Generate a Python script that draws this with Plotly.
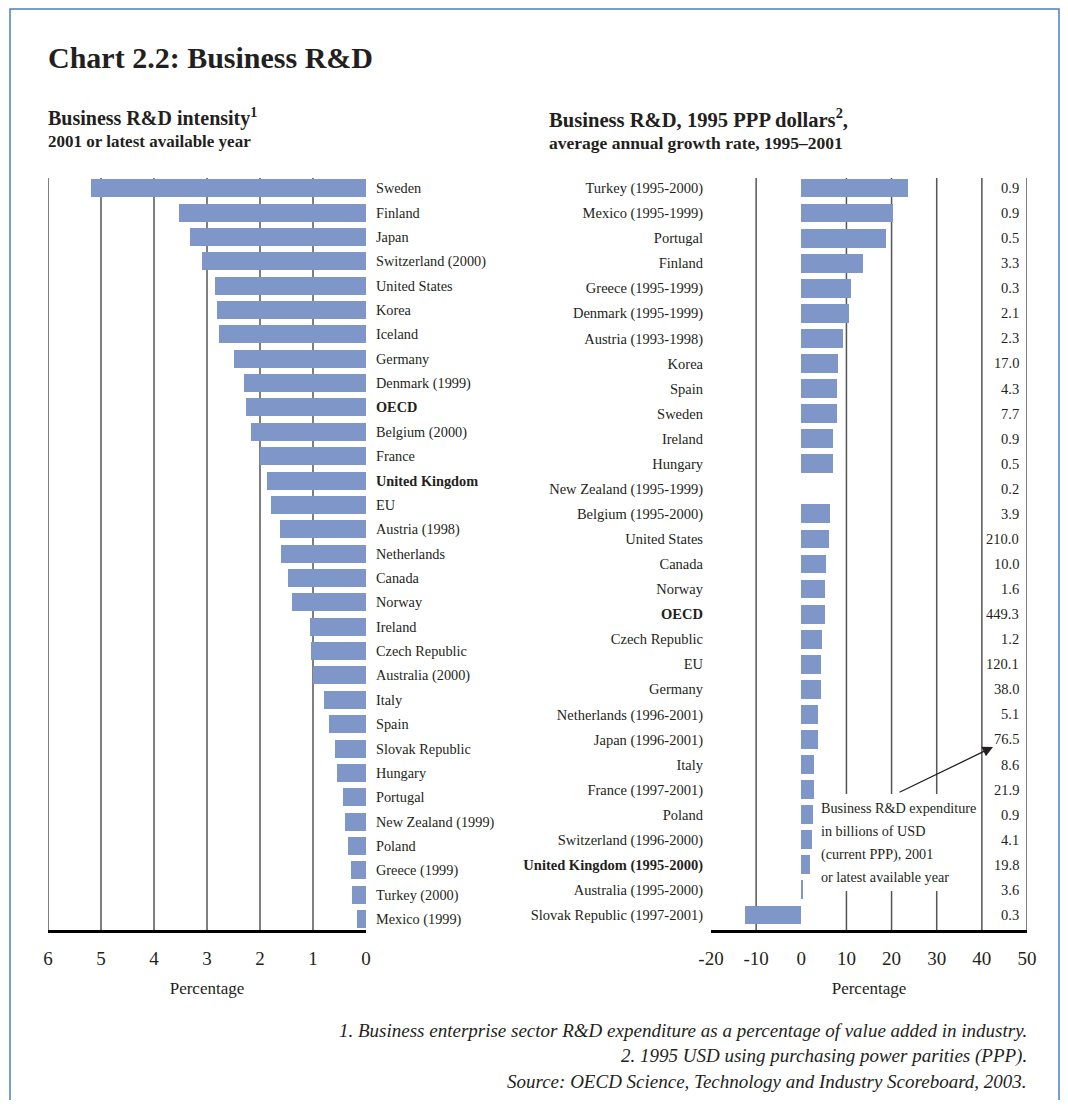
import plotly.graph_objects as go

# ---------------- data ----------------
left_categories = ["Sweden", "Finland", "Japan", "Switzerland (2000)", "United States", "Korea",
                   "Iceland", "Germany", "Denmark (1999)", "OECD", "Belgium (2000)", "France",
                   "United Kingdom", "EU", "Austria (1998)", "Netherlands", "Canada", "Norway",
                   "Ireland", "Czech Republic", "Australia (2000)", "Italy", "Spain",
                   "Slovak Republic", "Hungary", "Portugal", "New Zealand (1999)", "Poland",
                   "Greece (1999)", "Turkey (2000)", "Mexico (1999)"]
left_values = [5.19, 3.53, 3.32, 3.09, 2.85, 2.81, 2.77, 2.49, 2.30, 2.26, 2.17, 2.00,
               1.87, 1.79, 1.62, 1.60, 1.47, 1.40, 1.06, 1.04, 1.00, 0.79, 0.70,
               0.58, 0.55, 0.43, 0.40, 0.34, 0.28, 0.26, 0.17]
left_bold = ["OECD", "United Kingdom"]

right_categories = ["Turkey (1995-2000)", "Mexico (1995-1999)", "Portugal", "Finland",
                    "Greece (1995-1999)", "Denmark (1995-1999)", "Austria (1993-1998)", "Korea",
                    "Spain", "Sweden", "Ireland", "Hungary", "New Zealand (1995-1999)",
                    "Belgium (1995-2000)", "United States", "Canada", "Norway", "OECD",
                    "Czech Republic", "EU", "Germany", "Netherlands (1996-2001)",
                    "Japan (1996-2001)", "Italy", "France (1997-2001)", "Poland",
                    "Switzerland (1996-2000)", "United Kingdom (1995-2000)",
                    "Australia (1995-2000)", "Slovak Republic (1997-2001)"]
right_growth = [23.7, 20.4, 18.7, 13.6, 11.0, 10.6, 9.2, 8.1, 8.0, 8.0, 7.1, 7.1, None,
                6.4, 6.2, 5.5, 5.3, 5.3, 4.6, 4.4, 4.4, 3.8, 3.6, 2.9, 2.9, 2.6,
                2.4, 2.0, 0.2, -12.4]
right_expenditure = ["0.9", "0.9", "0.5", "3.3", "0.3", "2.1", "2.3", "17.0", "4.3", "7.7",
                     "0.9", "0.5", "0.2", "3.9", "210.0", "10.0", "1.6", "449.3", "1.2",
                     "120.1", "38.0", "5.1", "76.5", "8.6", "21.9", "0.9", "4.1", "19.8",
                     "3.6", "0.3"]
right_bold = ["OECD", "United Kingdom (1995-2000)"]

left_ticks = [6, 5, 4, 3, 2, 1, 0]
right_ticks = [-20, -10, 0, 10, 20, 30, 40, 50]
left_grid = [1, 2, 3, 4, 5, 6]
right_grid = [-10, 10, 20, 30, 40, 50]

note_lines = ["Business R&D expenditure", "in billions of USD",
              "(current PPP), 2001", "or latest available year"]
footnotes = ["1. Business enterprise sector R&D expenditure as a percentage of value added in industry.",
             "2. 1995 USD using purchasing power parities (PPP).",
             "Source: OECD Science, Technology and Industry Scoreboard, 2003."]

# ---------------- layout constants ----------------
OFF = 8  # page body margin in the browser
W, H = 1068 - 2 * OFF, 1108 - 2 * OFF
FONT = "Liberation Serif"
BAR = "rgb(127,150,200)"
TXT = "#231f20"
GRID = "#555555"


def px(x):
    return (x - OFF) / W


def py(y):
    return 1 - (y - OFF) / H


def fmt(c, bold):
    return f"<b>{c}</b>" if c in bold else c


fig = go.Figure()
fig.add_trace(go.Bar(x=left_values, y=left_categories, orientation="h", width=0.74,
                     marker=dict(color=BAR, line=dict(width=0)), xaxis="x", yaxis="y",
                     hoverinfo="x+y"))
fig.add_trace(go.Bar(x=right_growth, y=right_categories, orientation="h", width=0.75,
                     marker=dict(color=BAR, line=dict(width=0)), xaxis="x2", yaxis="y2",
                     hoverinfo="x+y"))

ydom = [py(930), py(178)]
axis_common = dict(showgrid=False, zeroline=False, ticks="", fixedrange=True, automargin=False)

fig.update_layout(
    template="none",
    width=W, height=H, margin=dict(l=0, r=0, t=0, b=0, pad=0, autoexpand=False),
    paper_bgcolor="white", plot_bgcolor="white", showlegend=False, bargap=0,
    font=dict(family=FONT, color=TXT),
    xaxis=dict(domain=[px(48), px(366)], range=[6, 0], anchor="y",
               tickvals=left_ticks, ticktext=[str(t) for t in left_ticks],
               tickfont=dict(size=19, color=TXT), ticklabelstandoff=9,
               showline=True, linecolor="black", linewidth=3,
               title=dict(text="Percentage", font=dict(size=17, color=TXT), standoff=15),
               **axis_common),
    yaxis=dict(domain=ydom, anchor="x", side="right", type="category",
               range=[len(left_categories) - 1 + 0.45, -0.42],
               tickvals=left_categories,
               ticktext=[fmt(c, left_bold) for c in left_categories],
               tickfont=dict(size=14.3, color=TXT), ticklabelstandoff=9,
               showline=False, **axis_common),
    xaxis2=dict(domain=[px(711), px(1027)], range=[-20, 50], anchor="y2",
                tickvals=right_ticks, ticktext=[str(t) for t in right_ticks],
                tickfont=dict(size=19, color=TXT), ticklabelstandoff=9,
                showline=True, linecolor="black", linewidth=3,
                title=dict(text="Percentage", font=dict(size=17, color=TXT), standoff=15),
                **axis_common),
    yaxis2=dict(domain=ydom, anchor="x2", side="left", type="category",
                range=[len(right_categories) - 1 + 0.6, -0.4],
                tickvals=right_categories,
                ticktext=[fmt(c, right_bold) for c in right_categories],
                tickfont=dict(size=14.5, color=TXT), ticklabelstandoff=7,
                showline=False, **axis_common),
)

shapes = []
for v in left_grid:
    shapes.append(dict(type="line", xref="x", yref="y domain", x0=v, x1=v, y0=0, y1=1,
                       line=dict(color=GRID, width=1.5), layer="below"))
for v in right_grid:
    shapes.append(dict(type="line", xref="x2", yref="y2 domain", x0=v, x1=v, y0=0, y1=1,
                       line=dict(color=GRID, width=1.5), layer="below"))
# white box behind the note text (interrupts the gridlines)
shapes.append(dict(type="rect", xref="paper", yref="paper", x0=px(817), x1=px(979),
                   y0=py(891), y1=py(794), fillcolor="white", line=dict(width=0),
                   layer="above"))
# outer frame
shapes.append(dict(type="rect", xref="paper", yref="paper", x0=px(10), x1=px(1059),
                   y0=-0.05, y1=py(9), line=dict(color="#4a7fc0", width=1.5),
                   fillcolor="rgba(0,0,0,0)", layer="above"))
fig.update_layout(shapes=shapes)

ann = []
ann.append(dict(text="<b>Chart 2.2: Business R&D</b>", xref="paper", yref="paper",
                x=px(46), y=py(58), xanchor="left", yanchor="middle", showarrow=False,
                font=dict(size=30, color=TXT)))
ann.append(dict(text="<b>Business R&D intensity<sup>1</sup></b>", xref="paper", yref="paper",
                x=px(46), y=py(118), xanchor="left", yanchor="middle", showarrow=False,
                font=dict(size=20, color=TXT)))
ann.append(dict(text="<b>2001 or latest available year</b>", xref="paper", yref="paper",
                x=px(46), y=py(141), xanchor="left", yanchor="middle", showarrow=False,
                font=dict(size=17, color=TXT)))
ann.append(dict(text="<b>Business R&D, 1995 PPP dollars<sup>2</sup>,</b>", xref="paper",
                yref="paper", x=px(547), y=py(118), xanchor="left", yanchor="middle",
                showarrow=False, font=dict(size=20.6, color=TXT)))
ann.append(dict(text="<b>average annual growth rate, 1995–2001</b>", xref="paper", yref="paper",
                x=px(547), y=py(143), xanchor="left", yanchor="middle", showarrow=False,
                font=dict(size=17.5, color=TXT)))

for c, v in zip(right_categories, right_expenditure):
    ann.append(dict(text=v, xref="x2", yref="y2", x=48.6, y=c, xanchor="right",
                    yanchor="middle", showarrow=False, font=dict(size=14.5, color=TXT)))

for i, line in enumerate(note_lines):
    ann.append(dict(text=line, xref="paper", yref="paper", x=px(819), y=py(808 + 23 * i),
                    xanchor="left", yanchor="middle", showarrow=False,
                    font=dict(size=14.2, color=TXT)))
# arrow pointing at the expenditure column
ann.append(dict(text="", xref="paper", yref="paper", x=px(993), y=py(747),
                ax=-95, ay=46, axref="pixel", ayref="pixel", showarrow=True,
                arrowhead=2, arrowsize=1.6, arrowwidth=1.3, arrowcolor=TXT, standoff=0))

for i, t in enumerate(footnotes):
    ann.append(dict(text=f"<i>{t}</i>", xref="paper", yref="paper", x=px(1029),
                    y=py(1030 + 25.5 * i), xanchor="right", yanchor="middle",
                    showarrow=False, font=dict(size=19, color=TXT)))

fig.update_layout(annotations=ann)
fig.write_html("out.html")
